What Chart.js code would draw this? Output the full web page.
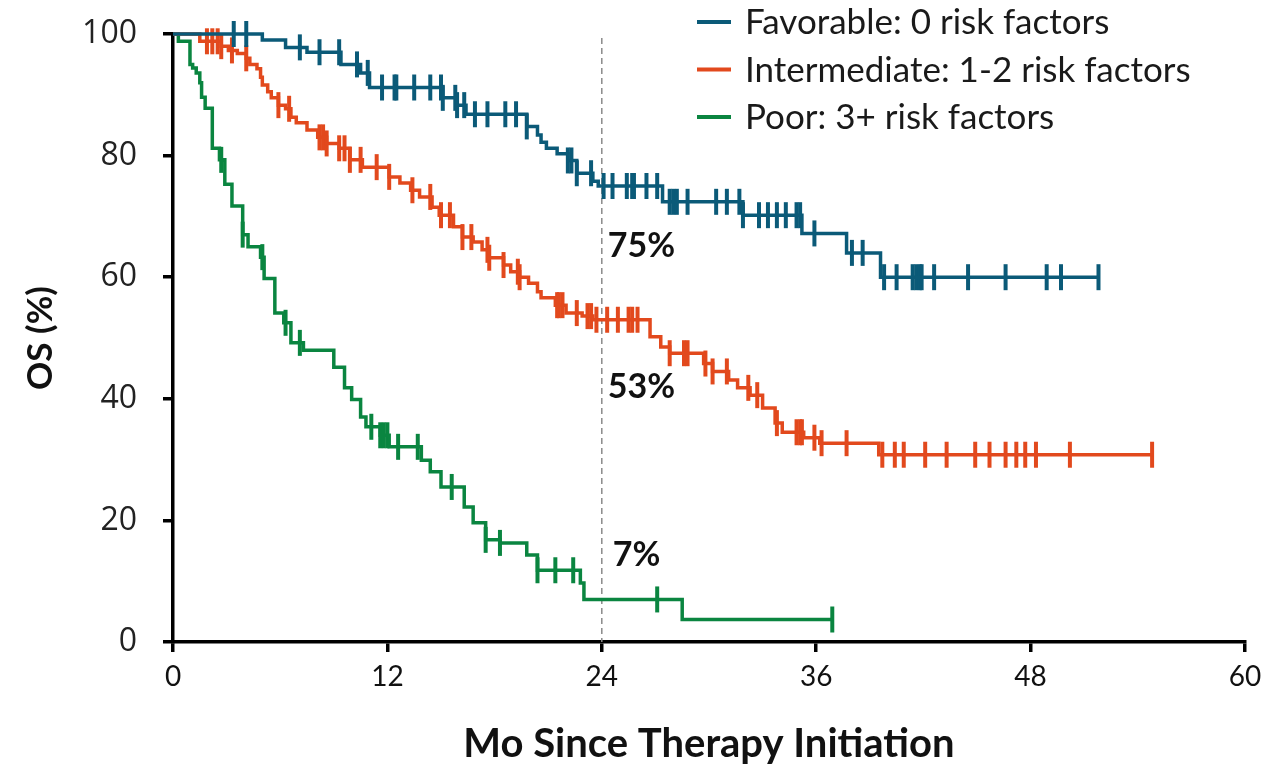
<!DOCTYPE html>
<html>
<head>
<meta charset="utf-8">
<script src="https://cdn.jsdelivr.net/npm/chart.js@4"></script>
<style>
  html, body { margin: 0; padding: 0; background: #fff; }
  #wrap { position: relative; width: 1266px; height: 773px; }
</style>
</head>
<body>
<div id="wrap"><canvas id="osChart"></canvas></div>
<script>
// Overall survival by risk group (Kaplan-Meier, months since therapy start)
const groupNames = ['Favorable: 0 risk factors', 'Intermediate: 1-2 risk factors', 'Poor: 3+ risk factors'];
const groupColors = ['#0b5a78', '#e2491d', '#0a8540'];

// event times (mo) and survival (%) right after each drop
const favTimes = [5.0, 6.3, 7.5, 9.4, 10.5, 11.0, 15.1, 15.9, 16.4, 19.8, 20.4, 20.6, 20.9, 21.5, 22.1, 22.6, 23.5, 23.8, 27.4, 31.9, 35.2, 37.7, 39.6];
const favSurv = [99, 97.8, 97, 95, 93.6, 91.2, 89.5, 88.3, 86.8, 84.8, 83.4, 82.2, 81.2, 80.3, 79.2, 77.1, 75.8, 75, 72.4, 70.2, 67.2, 64, 60];
const favEnd = 51.8;
const favCensor = [3.4, 4.1, 7.1, 8.2, 9.3, 10.3, 10.9, 11.7, 12.4, 12.5, 13.5, 14.4, 15.0, 15.1, 15.8, 15.9, 16.3, 16.9, 17.6, 18.6, 19.2, 19.8, 22.1, 22.3, 22.6, 23.4, 24.1, 24.6, 25.4, 25.7, 25.8, 26.5, 27.1, 27.8, 28.0, 28.2, 28.8, 30.4, 31.0, 31.7, 31.9, 32.8, 33.3, 33.8, 34.3, 34.9, 35.1, 35.9, 38.0, 38.6, 39.8, 40.5, 41.4, 41.6, 41.8, 41.9, 42.6, 44.5, 46.6, 48.9, 49.7, 51.8];

const intTimes = [1.5, 2.7, 3.1, 3.6, 4.1, 4.3, 4.7, 4.9, 5.0, 5.3, 5.5, 5.9, 6.3, 6.6, 6.9, 7.5, 8.1, 8.6, 9.3, 9.9, 10.6, 12.1, 12.7, 13.3, 13.8, 14.5, 14.9, 15.7, 16.2, 16.8, 17.3, 17.7, 18.5, 18.9, 19.4, 19.9, 20.4, 20.6, 21.4, 22.0, 22.9, 23.5, 26.7, 27.3, 27.8, 29.7, 30.2, 31.1, 31.6, 32.3, 33.0, 33.7, 34.1, 35.3, 36.2, 39.5];
const intSurv = [98.8, 98, 97.3, 96.8, 96, 95, 94.3, 92.9, 91.6, 90.5, 89.5, 88.3, 87.7, 86.3, 85.4, 84.2, 83, 82, 81.2, 79.3, 78.1, 76.5, 75.5, 74.3, 73.2, 71.5, 70.2, 68.3, 66.6, 65.8, 64.5, 63.2, 62, 60.9, 60, 59, 57.6, 56.6, 55.4, 54.1, 53.6, 53, 50.2, 48.5, 47.5, 45.8, 44.5, 43.1, 41.8, 40.6, 38.5, 36, 34.5, 33.6, 32.7, 30.8];
const intEnd = 54.8;
const intCensor = [1.9, 2.2, 2.5, 2.7, 3.3, 4.1, 5.9, 6.5, 8.2, 8.4, 8.6, 9.3, 9.6, 9.9, 10.5, 11.4, 12.1, 13.4, 14.4, 15.0, 15.5, 16.2, 16.7, 17.6, 17.7, 18.5, 19.3, 19.4, 21.5, 21.6, 21.8, 22.6, 23.2, 23.4, 23.7, 24.3, 24.9, 25.5, 25.7, 26.0, 27.8, 28.6, 28.8, 29.8, 30.2, 31.0, 32.2, 32.7, 33.8, 34.9, 35.1, 35.2, 35.9, 36.3, 37.7, 39.7, 40.4, 40.9, 42.1, 43.3, 44.9, 45.7, 46.6, 47.2, 47.7, 48.3, 50.2, 54.8];

const poorTimes = [0.3, 0.95, 1.1, 1.3, 1.5, 1.6, 1.8, 2.2, 2.6, 2.9, 3.3, 3.9, 4.2, 4.9, 5.1, 5.7, 6.2, 6.6, 7.3, 9.0, 9.6, 10.0, 10.5, 10.8, 11.6, 12.1, 13.9, 14.4, 15.0, 16.3, 16.8, 17.5, 18.3, 19.8, 20.4, 22.8, 23.0, 28.5];
const poorSurv = [98.8, 95, 94.4, 93.6, 92, 89.6, 87.8, 81.2, 79.3, 75.3, 71.7, 67, 65, 63.3, 59.8, 54.1, 52.5, 49.2, 48, 45.2, 41.8, 39.9, 37, 35.4, 34, 32.1, 29.9, 28, 25.5, 22.2, 19.6, 16.8, 16.3, 14.3, 11.8, 9.7, 7, 3.7];
const poorEnd = 36.9;
const poorCensor = [2.7, 3.9, 5.0, 6.3, 7.1, 11.1, 11.6, 11.8, 12.0, 12.6, 13.7, 15.6, 17.5, 18.3, 20.4, 21.4, 22.4, 27.1, 36.9];

const landmarkMonth = 24;
const landmarkLabels = ['75%', '53%', '7%'];
const xTicks = [0, 12, 24, 36, 48, 60];
const yTicks = [0, 20, 40, 60, 80, 100];

// survival level in effect at time t
function survAt(times, surv, t) {
    let s = 100;
    for (let i = 0; i < times.length; i++) {
        if (times[i] <= t) s = surv[i];
    }
    return s;
}

function curvePoints(times, surv, end) {
    const pts = [{ x: 0, y: 100 }];
    times.forEach((t, i) => pts.push({ x: t, y: surv[i] }));
    pts.push({ x: end, y: surv[surv.length - 1] });
    return pts;
}

function censorPoints(times, surv, marks) {
    return marks.map(t => ({ x: t, y: survAt(times, surv, t) }));
}

const groups = [
    [favTimes, favSurv, favEnd, favCensor],
    [intTimes, intSurv, intEnd, intCensor],
    [poorTimes, poorSurv, poorEnd, poorCensor]
];

const datasets = [];
groups.forEach(([times, surv, end, marks], i) => {
    datasets.push({
        label: groupNames[i],
        data: curvePoints(times, surv, end),
        borderColor: groupColors[i],
        borderWidth: 3.5,
        stepped: 'before',
        pointRadius: 0,
        clip: false
    });
    datasets.push({
        label: groupNames[i] + ' censored',
        data: censorPoints(times, surv, marks),
        showLine: false,
        pointStyle: 'line',
        rotation: 90,
        pointRadius: 13,
        pointHoverRadius: 13,
        pointBorderWidth: 4,
        pointBorderColor: groupColors[i],
        borderColor: groupColors[i],
        clip: false
    });
});

// dashed 24-mo landmark, percent callouts and the legend
const overlay = {
    id: 'overlay',
    beforeDatasetsDraw(chart) {
        const { ctx, chartArea, scales: { x } } = chart;
        const lx = x.getPixelForValue(landmarkMonth);
        ctx.save();
        ctx.strokeStyle = '#8a8a8a';
        ctx.lineWidth = 1.5;
        ctx.setLineDash([6, 4]);
        ctx.beginPath();
        ctx.moveTo(lx, chartArea.top + 4);
        ctx.lineTo(lx, chartArea.bottom);
        ctx.stroke();
        ctx.restore();
    },
    afterDraw(chart) {
        const { ctx, scales: { x, y } } = chart;
        ctx.save();
        const lx = x.getPixelForValue(landmarkMonth);
        const offsets = [60, 67, -44];
        ctx.font = 'bold 34px Lato';
        ctx.fillStyle = '#111';
        ctx.textBaseline = 'middle';
        ctx.textAlign = 'left';
        groups.forEach(([times, surv], i) => {
            const py = y.getPixelForValue(survAt(times, surv, landmarkMonth)) + offsets[i];
            ctx.fillText(landmarkLabels[i], lx + (i === 2 ? 11 : 6), py);
        });

        ctx.font = '35px Lato';
        ctx.fillStyle = '#1a1a1a';
        groupNames.forEach((name, i) => {
            const ry = 22 + i * 47.5;
            ctx.strokeStyle = groupColors[i];
            ctx.lineWidth = 4;
            ctx.beginPath();
            ctx.moveTo(697, ry);
            ctx.lineTo(731, ry);
            ctx.stroke();
            ctx.fillText(name, 745, ry + 1);
        });
        ctx.restore();
    }
};

new Chart(document.getElementById('osChart'), {
    type: 'line',
    data: { datasets },
    options: {
        responsive: true,
        maintainAspectRatio: false,
        animation: false,
        layout: { padding: { top: 34, right: 21, left: 0, bottom: 0 } },
        plugins: {
            legend: { display: false },
            tooltip: { enabled: false }
        },
        scales: {
            x: {
                type: 'linear',
                min: 0,
                max: 60,
                afterFit: s => { s.height = 131; s.paddingLeft = 0; s.paddingRight = 0; },
                afterBuildTicks: s => { s.ticks = xTicks.map(v => ({ value: v })); },
                ticks: { color: '#111', font: { family: 'Lato', size: 28 }, padding: 8, maxRotation: 0 },
                grid: { drawOnChartArea: false, drawTicks: true, tickLength: 10, color: '#000', lineWidth: 3.5 },
                border: { color: '#000', width: 3.5 },
                title: {
                    display: true,
                    text: 'Mo Since Therapy Initiation',
                    color: '#111',
                    font: { family: 'Lato', size: 40, weight: 'bold' },
                    padding: { top: 0, bottom: 5 }
                }
            },
            y: {
                min: 0,
                max: 100,
                afterFit: s => { s.width = 173; s.paddingTop = 0; s.paddingBottom = 0; },
                afterBuildTicks: s => { s.ticks = yTicks.map(v => ({ value: v })); },
                ticks: { color: '#222', font: { family: 'Open Sans', size: 32 }, padding: 26 },
                grid: { drawOnChartArea: false, drawTicks: true, tickLength: 10, color: '#000', lineWidth: 3.5 },
                border: { color: '#000', width: 3.5 },
                title: {
                    display: true,
                    text: 'OS (%)',
                    color: '#111',
                    font: { family: 'Lato', size: 35, weight: 'bold' },
                    padding: { top: 20, bottom: 0 }
                }
            }
        }
    },
    plugins: [overlay]
});
</script>
</body>
</html>
